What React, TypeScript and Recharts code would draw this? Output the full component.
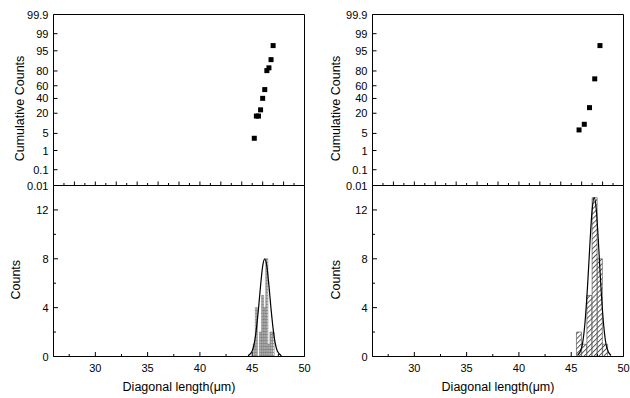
import React from 'react';
import { ComposedChart, Scatter, Bar, Line, XAxis, YAxis, ReferenceLine } from 'recharts';

const FONT = '"Liberation Sans", Arimo, Arial, Helvetica, sans-serif';

// ---- data ----
const probTickLabels = [0.01, 0.1, 1, 5, 20, 40, 60, 80, 95, 99, 99.9];

const leftCumX = [45.2, 45.4, 45.6, 45.8, 46.0, 46.2, 46.4, 46.6, 46.8, 47.0];
const leftCumPct = [3.3, 17.0, 17.0, 24.0, 40.2, 54.0, 80.4, 83.3, 90.2, 96.8];
const rightCumX = [45.75, 46.25, 46.75, 47.25, 47.75];
const rightCumPct = [6.6, 10.0, 26.8, 70.1, 96.8];

const leftBinX = [45.2, 45.4, 45.6, 45.8, 46.0, 46.2, 46.4, 46.6, 46.8, 47.0];
const leftBinCount = [1, 4, 0, 2, 5, 4, 8, 1, 2, 2];
const rightBinX = [45.75, 46.25, 46.75, 47.25, 47.75, 48.25];
const rightBinCount = [2, 1, 5, 13, 8, 1];

const leftFitX = [44.6, 45.0, 45.3, 45.6, 45.8, 46.0, 46.2, 46.4, 46.6, 46.8, 47.1, 47.4, 47.8];
const leftFitY = [0.05, 0.45, 1.6, 3.9, 5.8, 7.4, 8.0, 7.4, 5.8, 3.9, 1.6, 0.45, 0.05];
const rightFitX = [45.6, 46.0, 46.3, 46.6, 46.8, 47.0, 47.2, 47.4, 47.6, 47.8, 48.1, 48.4, 48.8];
const rightFitY = [0.08, 0.73, 2.6, 6.3, 9.4, 12.0, 13.0, 12.0, 9.4, 6.3, 2.6, 0.73, 0.08];

const xDomain: [number, number] = [26, 50];
const xLabelTicks = [27.5, 30, 32.5, 35, 37.5, 40, 42.5, 45, 47.5, 50];
const probXTicks = [27, 28, 29, 30, 31, 32, 33, 34, 35, 36, 37, 38, 39, 40, 41, 42, 43, 44, 45, 46, 47, 48, 49];
const countDomain: [number, number] = [0, 14];
const countTicks = [0, 2, 4, 6, 8, 10, 12];

// ---- probit transform for the probability axis ----
function probit(p: number): number {
  const a = [-3.969683028665376e1, 2.209460984245205e2, -2.759285104469687e2, 1.38357751867269e2, -3.066479806614716e1, 2.506628277459239];
  const b = [-5.447609879822406e1, 1.615858368580409e2, -1.556989798598866e2, 6.680131188771972e1, -1.328068155288572e1];
  const c = [-7.784894002430293e-3, -3.223964580411365e-1, -2.400758277161838, -2.549732539343734, 4.374664141464968, 2.938163982698783];
  const d = [7.784695709041462e-3, 3.224671290700398e-1, 2.445134137142996, 3.754408661907416];
  const pl = 0.02425;
  const ph = 1 - pl;
  if (p < pl) {
    const q = Math.sqrt(-2 * Math.log(p));
    return (((((c[0] * q + c[1]) * q + c[2]) * q + c[3]) * q + c[4]) * q + c[5]) / ((((d[0] * q + d[1]) * q + d[2]) * q + d[3]) * q + 1);
  }
  if (p <= ph) {
    const q = p - 0.5;
    const r = q * q;
    return ((((((a[0] * r + a[1]) * r + a[2]) * r + a[3]) * r + a[4]) * r + a[5]) * q) / (((((b[0] * r + b[1]) * r + b[2]) * r + b[3]) * r + b[4]) * r + 1);
  }
  const q = Math.sqrt(-2 * Math.log(1 - p));
  return -(((((c[0] * q + c[1]) * q + c[2]) * q + c[3]) * q + c[4]) * q + c[5]) / ((((d[0] * q + d[1]) * q + d[2]) * q + d[3]) * q + 1);
}

const probMin = probit(probTickLabels[0] / 100);
const probMax = probit(probTickLabels[probTickLabels.length - 1] / 100);
const probTicks = probTickLabels.map((l) => probit(l / 100));

// ---- ticks ----
const ProbYTick = (props: any) => {
  const { x, y, payload } = props;
  const v = payload?.value;
  const lbl = probTickLabels.find((l) => Math.abs(probit(l / 100) - v) < 1e-6);
  return (
    <g>
      <line x1={x} x2={x + 4} y1={y} y2={y} stroke="#000" strokeWidth={1} />
      <text x={x - 5} y={y + 4} textAnchor="end" fontSize={11} fontFamily={FONT} fill="#000">
        {lbl}
      </text>
    </g>
  );
};

const ProbXTick = (props: any) => {
  const { x, y, payload } = props;
  const len = payload.value % 2 === 0 ? 4 : 2.5;
  return <line x1={x} x2={x} y1={y} y2={y - len} stroke="#000" strokeWidth={1} />;
};

const CountYTick = (props: any) => {
  const { x, y, payload } = props;
  const v = payload.value;
  const major = v % 4 === 0;
  return (
    <g>
      <line x1={x} x2={x + (major ? 4.5 : 2.5)} y1={y} y2={y} stroke="#000" strokeWidth={1} />
      {major && (
        <text x={x - 5} y={y + 4} textAnchor="end" fontSize={11} fontFamily={FONT} fill="#000">
          {v}
        </text>
      )}
    </g>
  );
};

const BottomXTick = (props: any) => {
  const { x, y, payload } = props;
  const v = payload.value;
  const major = v % 5 === 0;
  return (
    <g>
      <line x1={x} x2={x} y1={y} y2={y - (major ? 4.5 : 2.5)} stroke="#000" strokeWidth={1} />
      {major && (
        <text x={x} y={y + 15} textAnchor="middle" fontSize={11} fontFamily={FONT} fill="#000">
          {v}
        </text>
      )}
    </g>
  );
};

const VTitle = (props: any) => {
  const { tx, ty, text } = props;
  return (
    <text x={tx} y={ty} transform={`rotate(-90 ${tx} ${ty})`} textAnchor="middle" fontSize={12.5} fontFamily={FONT} fill="#000">
      {text}
    </text>
  );
};

const HTitle = (props: any) => {
  const { tx, ty, text } = props;
  return (
    <text x={tx} y={ty} textAnchor="middle" fontSize={12.5} fontFamily={FONT} fill="#000">
      {text}
    </text>
  );
};

const Square = (props: any) => {
  const { cx, cy } = props;
  if (cx == null || cy == null) return null;
  return <rect x={cx - 2.5} y={cy - 2.5} width={5} height={5} fill="#000" />;
};

type PanelProps = {
  left: number;
  cumX: number[];
  cumPct: number[];
  binX: number[];
  binCount: number[];
  fitX: number[];
  fitY: number[];
  fill: string;
  barStroke: string;
  topTitleX: number;
  bottomTitleX: number;
};

const CHART_W = 315;
const PLOT_LEFT = 53;
const MARGIN_RIGHT = 10.5;
const PLOT_W = CHART_W - 0.5 - PLOT_LEFT - MARGIN_RIGHT;
const BOTTOM_MARGIN = { top: 10.5, right: MARGIN_RIGHT, bottom: 0, left: 0.5 };

function Panel(p: PanelProps) {
  const cumData = p.cumX.map((x, i) => ({ x, p: probit(p.cumPct[i] / 100) }));
  const hist = p.binX.map((x, i) => ({ x, count: p.binCount[i] }));
  const fit = p.fitX.map((x, i) => ({ x, fit: p.fitY[i] }));
  return (
    <>
      <div style={{ position: 'absolute', left: p.left, top: 0 }}>
        <ComposedChart width={CHART_W} height={196} margin={{ top: 14.5, right: MARGIN_RIGHT, bottom: 10, left: 0.5 }}>
          <XAxis
            type="number"
            dataKey="x"
            domain={xDomain}
            ticks={probXTicks}
            interval={0}
            tick={<ProbXTick />}
            tickLine={false}
            tickSize={0}
            tickMargin={0}
            height={0.5}
            axisLine={{ stroke: '#000', strokeWidth: 1 }}
            allowDataOverflow
          />
          <YAxis
            type="number"
            dataKey="p"
            domain={[probMin, probMax]}
            ticks={probTicks}
            interval={0}
            tick={<ProbYTick />}
            tickLine={false}
            tickSize={0}
            tickMargin={0}
            width={PLOT_LEFT}
            axisLine={{ stroke: '#000', strokeWidth: 1 }}
            allowDataOverflow
            label={<VTitle tx={p.topTitleX} ty={108.5} text="Cumulative Counts" />}
          />
          <ReferenceLine y={probMax} stroke="#000" strokeWidth={1} />
          <ReferenceLine x={xDomain[1]} stroke="#000" strokeWidth={1} />
          <Scatter data={cumData} dataKey="p" shape={<Square />} isAnimationActive={false} />
        </ComposedChart>
      </div>
      <div style={{ position: 'absolute', left: p.left, top: 175 }}>
        <ComposedChart width={CHART_W} height={223} data={hist} margin={BOTTOM_MARGIN} barCategoryGap={0} barGap={0}>
          <XAxis
            type="number"
            dataKey="x"
            domain={xDomain}
            ticks={xLabelTicks}
            interval={0}
            tick={<BottomXTick />}
            tickLine={false}
            tickSize={0}
            tickMargin={0}
            height={41.5}
            axisLine={{ stroke: '#000', strokeWidth: 1 }}
            allowDataOverflow
            label={<HTitle tx={PLOT_LEFT + 0.5 + PLOT_W / 2} ty={215.7} text="Diagonal length(μm)" />}
          />
          <YAxis
            type="number"
            domain={countDomain}
            ticks={countTicks}
            interval={0}
            tick={<CountYTick />}
            tickLine={false}
            tickSize={0}
            tickMargin={0}
            width={PLOT_LEFT}
            axisLine={{ stroke: '#000', strokeWidth: 1 }}
            allowDataOverflow
            label={<VTitle tx={p.bottomTitleX} ty={104.7} text="Counts" />}
          />
          <ReferenceLine x={xDomain[1]} stroke="#000" strokeWidth={1} />
          <Bar dataKey="count" fill={p.fill} stroke={p.barStroke} strokeWidth={0.6} isAnimationActive={false} />
        </ComposedChart>
      </div>
      <div style={{ position: 'absolute', left: p.left, top: 175 }}>
        <ComposedChart width={CHART_W} height={223} data={fit} margin={BOTTOM_MARGIN}>
          <XAxis type="number" dataKey="x" domain={xDomain} tick={false} tickLine={false} axisLine={false} height={41.5} allowDataOverflow />
          <YAxis type="number" domain={countDomain} tick={false} tickLine={false} axisLine={false} width={PLOT_LEFT} allowDataOverflow />
          <Line dataKey="fit" type="monotone" stroke="#000" strokeWidth={1.2} dot={false} activeDot={false} isAnimationActive={false} />
        </ComposedChart>
      </div>
    </>
  );
}

export default function App() {
  return (
    <div style={{ position: 'absolute', left: 0, top: 0, width: 630, height: 398, background: '#fff', overflow: 'hidden' }}>
      <svg width={0} height={0} style={{ position: 'absolute' }}>
        <defs>
          <pattern id="gridPat" width={2} height={3} patternUnits="userSpaceOnUse">
            <rect width={2} height={3} fill="#fff" />
            <path d="M0 0.5 H2 M0.5 0 V3" stroke="#8a8a8a" strokeWidth={0.7} fill="none" />
          </pattern>
          <pattern id="diagPat" width={3.5} height={3.5} patternUnits="userSpaceOnUse" patternTransform="rotate(45)">
            <rect width={3.5} height={3.5} fill="#fff" />
            <line x1={0.5} y1={0} x2={0.5} y2={3.5} stroke="#333" strokeWidth={0.8} />
          </pattern>
        </defs>
      </svg>
      <Panel
        left={0}
        cumX={leftCumX}
        cumPct={leftCumPct}
        binX={leftBinX}
        binCount={leftBinCount}
        fitX={leftFitX}
        fitY={leftFitY}
        fill="url(#gridPat)"
        barStroke="#666"
        topTitleX={24}
        bottomTitleX={20.5}
      />
      <Panel
        left={319}
        cumX={rightCumX}
        cumPct={rightCumPct}
        binX={rightBinX}
        binCount={rightBinCount}
        fitX={rightFitX}
        fitY={rightFitY}
        fill="url(#diagPat)"
        barStroke="#444"
        topTitleX={21}
        bottomTitleX={21.5}
      />
    </div>
  );
}
